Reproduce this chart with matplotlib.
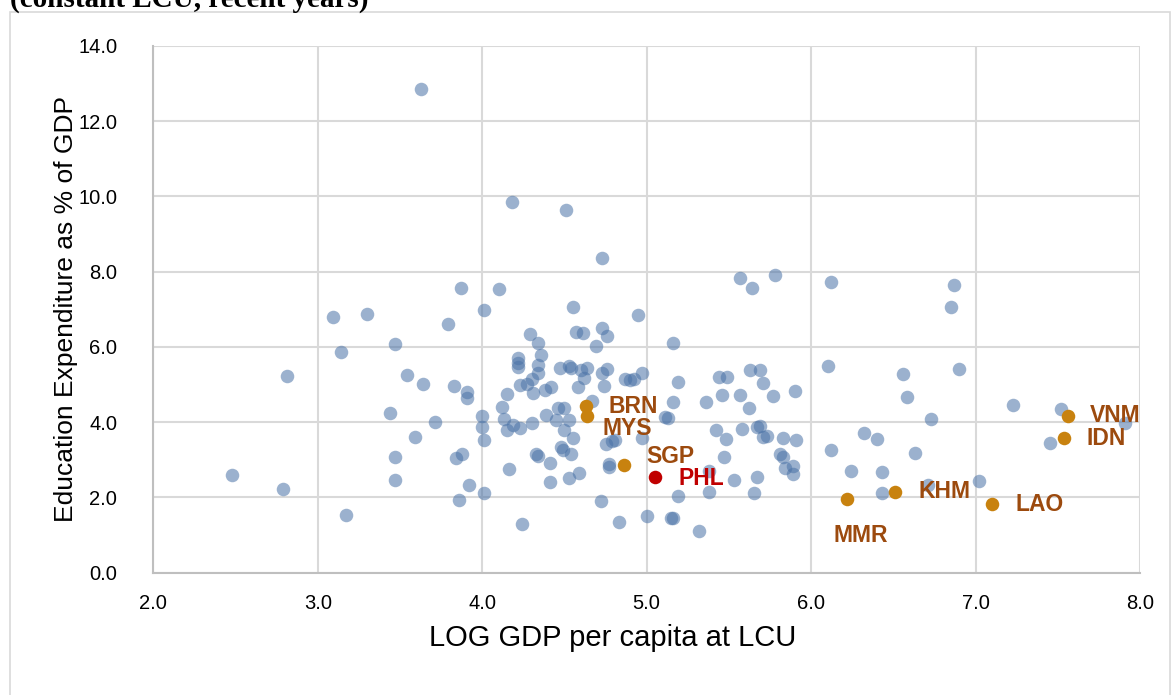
import matplotlib
matplotlib.use("Agg")
import matplotlib.pyplot as plt
from matplotlib.patches import Rectangle

# 全ての国 (log GDP per capita, education expenditure % of GDP)
log_gdp = [
    2.48, 2.79, 2.81, 3.09, 3.14, 3.17, 3.30, 3.44, 3.47, 3.47, 3.47, 3.54, 3.59, 3.63,
    3.64, 3.71, 3.79, 3.83, 3.84, 3.87, 3.86, 3.88, 3.91, 3.91, 3.92, 4.01, 4.00, 4.00,
    4.01, 4.01, 4.10, 4.12, 4.15, 4.13, 4.15, 4.19, 4.16, 4.18, 4.22, 4.22, 4.22, 4.23,
    4.23, 4.24, 4.27, 4.29, 4.30, 4.31, 4.30, 4.34, 4.36, 4.34, 4.34, 4.33, 4.34, 4.38,
    4.39, 4.42, 4.41, 4.41, 4.45, 4.46, 4.47, 4.48, 4.49, 4.51, 4.50, 4.50, 4.53, 4.53,
    4.53, 4.54, 4.54, 4.55, 4.55, 4.57, 4.58, 4.59, 4.61, 4.60, 4.62, 4.64, 4.67, 4.69,
    4.72, 4.73, 4.73, 4.73, 4.74, 4.75, 4.76, 4.76, 4.77, 4.77, 4.79, 4.81, 4.83, 4.87,
    4.90, 4.92, 4.95, 4.97, 4.97, 5.00, 5.11, 5.13, 5.15, 5.16, 5.16, 5.16, 5.19, 5.19,
    5.32, 5.36, 5.38, 5.38, 5.42, 5.44, 5.46, 5.47, 5.48, 5.49, 5.53, 5.57, 5.57, 5.58,
    5.62, 5.63, 5.64, 5.65, 5.67, 5.67, 5.69, 5.69, 5.71, 5.71, 5.73, 5.77, 5.78, 5.81,
    5.83, 5.83, 5.84, 5.89, 5.89, 5.90, 5.91, 6.10, 6.12, 6.12, 6.24, 6.32, 6.40, 6.43,
    6.43, 6.56, 6.58, 6.63, 6.71, 6.73, 6.85, 6.87, 6.90, 7.02, 7.23, 7.45, 7.52, 7.91,
]
edu_exp = [
    2.59, 2.22, 5.23, 6.80, 5.87, 1.54, 6.87, 4.25, 6.08, 3.07, 2.45, 5.25, 3.60, 12.84,
    5.00, 4.00, 6.60, 4.97, 3.06, 7.56, 1.94, 3.15, 4.81, 4.63, 2.33, 6.98, 4.15, 3.88,
    3.53, 2.13, 7.53, 4.41, 4.75, 4.08, 3.79, 3.92, 2.76, 9.86, 5.70, 5.57, 5.47, 4.99,
    3.84, 1.29, 5.00, 6.33, 5.14, 4.78, 3.98, 6.09, 5.78, 5.52, 5.31, 3.16, 3.10, 4.85,
    4.19, 4.94, 2.92, 2.42, 4.06, 4.37, 5.45, 3.33, 3.26, 9.64, 4.37, 3.79, 5.49, 4.06,
    2.52, 5.45, 3.15, 7.07, 3.59, 6.40, 4.92, 2.64, 6.38, 5.39, 5.16, 5.45, 4.56, 6.03,
    1.90, 8.35, 6.51, 5.30, 4.96, 3.41, 6.29, 5.41, 2.89, 2.82, 3.50, 3.53, 1.34, 5.14,
    5.12, 5.14, 6.85, 5.31, 3.57, 1.51, 4.14, 4.12, 1.45, 1.46, 6.09, 4.54, 5.07, 2.05,
    1.12, 4.54, 2.70, 2.14, 3.79, 5.19, 4.72, 3.07, 3.55, 5.19, 2.46, 7.82, 4.72, 3.82,
    4.37, 5.39, 7.57, 2.13, 3.86, 2.55, 5.39, 3.90, 5.05, 3.61, 3.64, 4.69, 7.91, 3.15,
    3.08, 3.59, 2.79, 2.84, 2.61, 4.84, 3.53, 5.50, 7.71, 3.26, 2.71, 3.70, 3.55, 2.67,
    2.13, 5.28, 4.68, 3.19, 2.33, 4.09, 7.05, 7.65, 5.42, 2.44, 4.46, 3.44, 4.34, 3.97,
]

# ASEAN
asean_codes = ["BRN", "MYS", "SGP", "MMR", "KHM", "LAO", "VNM", "IDN"]
asean_log_gdp = [4.63, 4.64, 4.86, 6.22, 6.51, 7.10, 7.56, 7.54]
asean_edu_exp = [4.44, 4.16, 2.86, 1.95, 2.15, 1.82, 4.17, 3.57]
asean_label_offset = [(16, -1), (11, -9), (16, 6), (-10, -26), (17, 0), (17, 0), (16, 0), (16, 0)]

phl_log_gdp = 5.05
phl_edu_exp = 2.55

x_ticks = [2.0, 3.0, 4.0, 5.0, 6.0, 7.0, 8.0]
y_ticks = [0.0, 2.0, 4.0, 6.0, 8.0, 10.0, 12.0, 14.0]


def main():
    plt.rcParams["font.family"] = ["Liberation Sans", "DejaVu Sans"]

    fig = plt.figure(figsize=(11.73, 6.95), dpi=100)
    ax = fig.add_axes([0.1307, 0.176, 0.8412, 0.7582])

    # 枠
    fig.patches.append(Rectangle((10 / 1173, -0.05), 1160 / 1173, 1.05 - 12 / 695,
                                 transform=fig.transFigure, fill=False,
                                 edgecolor="#D9D9D9", linewidth=1.2))
    fig.text(10 / 1173, 1 - 7 / 695, "(constant LCU, recent years)",
             family="Liberation Serif", fontweight="bold", fontsize=21,
             va="baseline", ha="left")

    ax.scatter(log_gdp, edu_exp, s=95, color="#4A72A6", alpha=0.55,
               linewidths=0, zorder=3)
    ax.scatter(asean_log_gdp, asean_edu_exp, s=95, color="#C8820F",
               linewidths=0, zorder=4)
    ax.scatter([phl_log_gdp], [phl_edu_exp], s=95, color="#C00000",
               linewidths=0, zorder=4)

    for code, x, y, off in zip(asean_codes, asean_log_gdp, asean_edu_exp, asean_label_offset):
        ax.annotate(code, (x, y), xytext=off, textcoords="offset points",
                    ha="left", va="center", fontsize=16.5, fontweight="bold",
                    color="#9C4A0E", zorder=5)
    ax.annotate("PHL", (phl_log_gdp, phl_edu_exp), xytext=(17, -1),
                textcoords="offset points", ha="left", va="center",
                fontsize=16.5, fontweight="bold", color="#C00000", zorder=5)

    ax.set_xlim(2.0, 8.0)
    ax.set_ylim(0.0, 14.0)
    ax.set_xticks(x_ticks)
    ax.set_yticks(y_ticks)
    ax.set_xticklabels([f"{v:.1f}" for v in x_ticks])
    ax.set_yticklabels([f"{v:.1f}" for v in y_ticks])
    ax.tick_params(axis="both", length=0, labelsize=14.5, colors="black")
    ax.tick_params(axis="y", pad=26)
    ax.tick_params(axis="x", pad=15)

    ax.grid(True, color="#D9D9D9", linewidth=1.5, zorder=0)
    ax.set_axisbelow(True)
    for side in ["top", "right"]:
        ax.spines[side].set_visible(False)
    ax.spines["left"].set_color("#BFBFBF")
    ax.spines["bottom"].set_color("#BFBFBF")
    ax.spines["left"].set_linewidth(1.5)
    ax.spines["bottom"].set_linewidth(1.5)

    ax.set_xlabel("LOG GDP per capita at LCU", fontsize=21)
    ax.set_ylabel("Education Expenditure as % of GDP", fontsize=19)
    ax.xaxis.set_label_coords(0.465, -0.097)
    ax.yaxis.set_label_coords(-0.076, 0.5)

    fig.savefig("out.png", dpi=100)


if __name__ == "__main__":
    main()
